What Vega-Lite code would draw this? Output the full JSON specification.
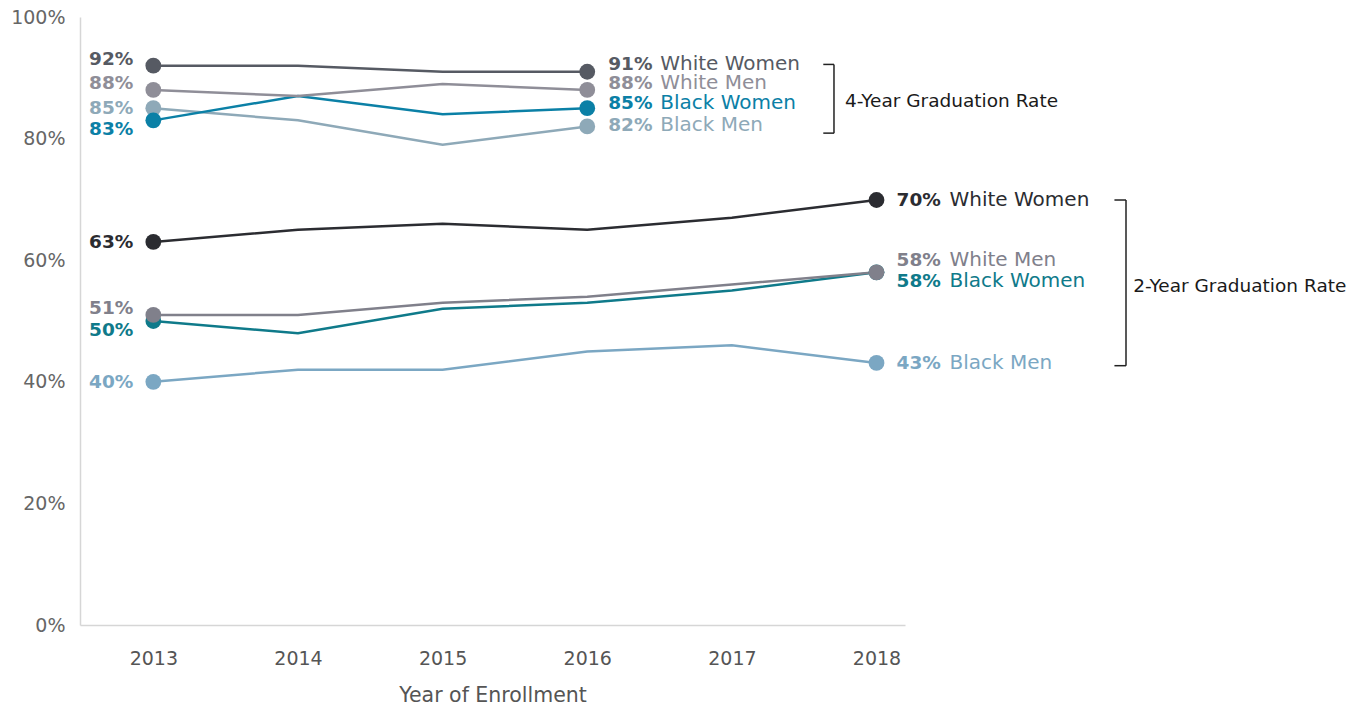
{
  "$schema": "https://vega.github.io/schema/vega-lite/v6.json",
  "autosize": {"type": "none"},
  "width": 825,
  "height": 608,
  "padding": {"left": 80, "top": 17, "right": 464, "bottom": 86},
  "background": "white",
  "config": {
    "view": {"stroke": null},
    "font": "DejaVu Sans",
    "text": {"font": "DejaVu Sans"}
  },
  "datasets": {
    "rates": [
      {"key": "4-Year Black Men", "group": "4-Year", "series": "Black Men", "year": 2013, "value": 0.85},
      {"key": "4-Year Black Men", "group": "4-Year", "series": "Black Men", "year": 2014, "value": 0.83},
      {"key": "4-Year Black Men", "group": "4-Year", "series": "Black Men", "year": 2015, "value": 0.79},
      {"key": "4-Year Black Men", "group": "4-Year", "series": "Black Men", "year": 2016, "value": 0.82},
      {"key": "4-Year Black Women", "group": "4-Year", "series": "Black Women", "year": 2013, "value": 0.83},
      {"key": "4-Year Black Women", "group": "4-Year", "series": "Black Women", "year": 2014, "value": 0.87},
      {"key": "4-Year Black Women", "group": "4-Year", "series": "Black Women", "year": 2015, "value": 0.84},
      {"key": "4-Year Black Women", "group": "4-Year", "series": "Black Women", "year": 2016, "value": 0.85},
      {"key": "4-Year White Men", "group": "4-Year", "series": "White Men", "year": 2013, "value": 0.88},
      {"key": "4-Year White Men", "group": "4-Year", "series": "White Men", "year": 2014, "value": 0.87},
      {"key": "4-Year White Men", "group": "4-Year", "series": "White Men", "year": 2015, "value": 0.89},
      {"key": "4-Year White Men", "group": "4-Year", "series": "White Men", "year": 2016, "value": 0.88},
      {"key": "4-Year White Women", "group": "4-Year", "series": "White Women", "year": 2013, "value": 0.92},
      {"key": "4-Year White Women", "group": "4-Year", "series": "White Women", "year": 2014, "value": 0.92},
      {"key": "4-Year White Women", "group": "4-Year", "series": "White Women", "year": 2015, "value": 0.91},
      {"key": "4-Year White Women", "group": "4-Year", "series": "White Women", "year": 2016, "value": 0.91},
      {"key": "2-Year Black Men", "group": "2-Year", "series": "Black Men", "year": 2013, "value": 0.40},
      {"key": "2-Year Black Men", "group": "2-Year", "series": "Black Men", "year": 2014, "value": 0.42},
      {"key": "2-Year Black Men", "group": "2-Year", "series": "Black Men", "year": 2015, "value": 0.42},
      {"key": "2-Year Black Men", "group": "2-Year", "series": "Black Men", "year": 2016, "value": 0.45},
      {"key": "2-Year Black Men", "group": "2-Year", "series": "Black Men", "year": 2017, "value": 0.46},
      {"key": "2-Year Black Men", "group": "2-Year", "series": "Black Men", "year": 2018, "value": 0.431},
      {"key": "2-Year Black Women", "group": "2-Year", "series": "Black Women", "year": 2013, "value": 0.50},
      {"key": "2-Year Black Women", "group": "2-Year", "series": "Black Women", "year": 2014, "value": 0.48},
      {"key": "2-Year Black Women", "group": "2-Year", "series": "Black Women", "year": 2015, "value": 0.52},
      {"key": "2-Year Black Women", "group": "2-Year", "series": "Black Women", "year": 2016, "value": 0.53},
      {"key": "2-Year Black Women", "group": "2-Year", "series": "Black Women", "year": 2017, "value": 0.55},
      {"key": "2-Year Black Women", "group": "2-Year", "series": "Black Women", "year": 2018, "value": 0.58},
      {"key": "2-Year White Men", "group": "2-Year", "series": "White Men", "year": 2013, "value": 0.51},
      {"key": "2-Year White Men", "group": "2-Year", "series": "White Men", "year": 2014, "value": 0.51},
      {"key": "2-Year White Men", "group": "2-Year", "series": "White Men", "year": 2015, "value": 0.53},
      {"key": "2-Year White Men", "group": "2-Year", "series": "White Men", "year": 2016, "value": 0.54},
      {"key": "2-Year White Men", "group": "2-Year", "series": "White Men", "year": 2017, "value": 0.56},
      {"key": "2-Year White Men", "group": "2-Year", "series": "White Men", "year": 2018, "value": 0.58},
      {"key": "2-Year White Women", "group": "2-Year", "series": "White Women", "year": 2013, "value": 0.63},
      {"key": "2-Year White Women", "group": "2-Year", "series": "White Women", "year": 2014, "value": 0.65},
      {"key": "2-Year White Women", "group": "2-Year", "series": "White Women", "year": 2015, "value": 0.66},
      {"key": "2-Year White Women", "group": "2-Year", "series": "White Women", "year": 2016, "value": 0.65},
      {"key": "2-Year White Women", "group": "2-Year", "series": "White Women", "year": 2017, "value": 0.67},
      {"key": "2-Year White Women", "group": "2-Year", "series": "White Women", "year": 2018, "value": 0.699}
    ],
    "brackets": [
      {"label": "4-Year Graduation Rate", "bx": 2017.706, "tick": 2017.632, "tx": 2017.782, "top": 0.922, "bottom": 0.809, "mid": 0.862},
      {"label": "2-Year Graduation Rate", "bx": 2019.725, "tick": 2019.645, "tx": 2019.775, "top": 0.699, "bottom": 0.4265, "mid": 0.558}
    ]
  },
  "encoding": {
    "x": {
      "field": "year", "type": "quantitative",
      "scale": {"domain": [2012.493, 2018.197], "nice": false, "zero": false},
      "axis": {
        "values": [2013, 2014, 2015, 2016, 2017, 2018], "format": "d",
        "title": "Year of Enrollment", "titleFont": "DejaVu Sans", "titleFontSize": 20.5, "titleFontWeight": "normal", "titleColor": "#555555", "titlePadding": 17,
        "labelFont": "DejaVu Sans", "labelFontSize": 19, "labelColor": "#555555", "labelPadding": 24,
        "ticks": false, "grid": false, "domainColor": "#d6d6d6", "domainWidth": 1.5
      }
    },
    "y": {
      "field": "value", "type": "quantitative",
      "scale": {"domain": [0, 1], "nice": false},
      "axis": {
        "values": [0, 0.2, 0.4, 0.6, 0.8, 1], "format": ".0%", "title": null,
        "labelFont": "DejaVu Sans", "labelFontSize": 19, "labelColor": "#666666", "labelPadding": 15,
        "ticks": false, "grid": false, "domainColor": "#d6d6d6", "domainWidth": 1.5
      }
    },
    "color": {
      "field": "key", "type": "nominal", "legend": null,
      "scale": {
        "domain": ["4-Year White Women", "4-Year White Men", "4-Year Black Women", "4-Year Black Men", "2-Year White Women", "2-Year White Men", "2-Year Black Women", "2-Year Black Men"],
        "range": ["#565a63", "#8f8e98", "#0b80a6", "#8ea9b8", "#2b2c31", "#80808b", "#0f7a8a", "#7ba7c3"]
      }
    }
  },
  "layer": [
    {
      "data": {"name": "rates"},
      "mark": {"type": "line", "strokeWidth": 2.5},
      "encoding": {"detail": {"field": "key"}}
    },
    {
      "data": {"name": "rates"},
      "transform": [{"filter": "datum.year == 2013 || datum.year == 2018 || (datum.group == '4-Year' && datum.year == 2016)"}],
      "mark": {"type": "circle", "size": 250, "opacity": 1}
    },
    {
      "data": {"name": "rates"},
      "transform": [{"filter": "datum.year == 2013 && indexof(['4-Year White Women','4-Year White Men','2-Year White Men'], datum.key) >= 0"}],
      "mark": {"type": "text", "align": "right", "baseline": "middle", "dx": -20, "dy": -7, "fontSize": 18.5, "fontWeight": "bold"},
      "encoding": {"text": {"field": "value", "type": "quantitative", "format": ".0%"}}
    },
    {
      "data": {"name": "rates"},
      "transform": [{"filter": "datum.year == 2013 && indexof(['4-Year Black Men','2-Year White Women','2-Year Black Men'], datum.key) >= 0"}],
      "mark": {"type": "text", "align": "right", "baseline": "middle", "dx": -20, "dy": 0, "fontSize": 18.5, "fontWeight": "bold"},
      "encoding": {"text": {"field": "value", "type": "quantitative", "format": ".0%"}}
    },
    {
      "data": {"name": "rates"},
      "transform": [{"filter": "datum.year == 2013 && indexof(['4-Year Black Women','2-Year Black Women'], datum.key) >= 0"}],
      "mark": {"type": "text", "align": "right", "baseline": "middle", "dx": -20, "dy": 8.5, "fontSize": 18.5, "fontWeight": "bold"},
      "encoding": {"text": {"field": "value", "type": "quantitative", "format": ".0%"}}
    },
    {
      "data": {"name": "rates"},
      "transform": [{"filter": "datum.year == 2016 && datum.key == '4-Year White Women'"}],
      "mark": {"type": "text", "align": "left", "baseline": "middle", "dx": 21, "dy": -8, "fontSize": 18.5, "fontWeight": "bold"},
      "encoding": {"text": {"field": "value", "type": "quantitative", "format": ".0%"}}
    },
    {
      "data": {"name": "rates"},
      "transform": [{"filter": "datum.year == 2016 && datum.key == '4-Year White Women'"}],
      "mark": {"type": "text", "align": "left", "baseline": "middle", "dx": 73, "dy": -8, "fontSize": 20},
      "encoding": {"text": {"field": "series"}}
    },
    {
      "data": {"name": "rates"},
      "transform": [{"filter": "datum.year == 2016 && datum.key == '4-Year White Men'"}],
      "mark": {"type": "text", "align": "left", "baseline": "middle", "dx": 21, "dy": -6.5, "fontSize": 18.5, "fontWeight": "bold"},
      "encoding": {"text": {"field": "value", "type": "quantitative", "format": ".0%"}}
    },
    {
      "data": {"name": "rates"},
      "transform": [{"filter": "datum.year == 2016 && datum.key == '4-Year White Men'"}],
      "mark": {"type": "text", "align": "left", "baseline": "middle", "dx": 73, "dy": -6.5, "fontSize": 20},
      "encoding": {"text": {"field": "series"}}
    },
    {
      "data": {"name": "rates"},
      "transform": [{"filter": "datum.year == 2016 && datum.key == '4-Year Black Women'"}],
      "mark": {"type": "text", "align": "left", "baseline": "middle", "dx": 21, "dy": -5.5, "fontSize": 18.5, "fontWeight": "bold"},
      "encoding": {"text": {"field": "value", "type": "quantitative", "format": ".0%"}}
    },
    {
      "data": {"name": "rates"},
      "transform": [{"filter": "datum.year == 2016 && datum.key == '4-Year Black Women'"}],
      "mark": {"type": "text", "align": "left", "baseline": "middle", "dx": 73, "dy": -5.5, "fontSize": 20},
      "encoding": {"text": {"field": "series"}}
    },
    {
      "data": {"name": "rates"},
      "transform": [{"filter": "datum.year == 2016 && datum.key == '4-Year Black Men'"}],
      "mark": {"type": "text", "align": "left", "baseline": "middle", "dx": 21, "dy": -1.5, "fontSize": 18.5, "fontWeight": "bold"},
      "encoding": {"text": {"field": "value", "type": "quantitative", "format": ".0%"}}
    },
    {
      "data": {"name": "rates"},
      "transform": [{"filter": "datum.year == 2016 && datum.key == '4-Year Black Men'"}],
      "mark": {"type": "text", "align": "left", "baseline": "middle", "dx": 73, "dy": -1.5, "fontSize": 20},
      "encoding": {"text": {"field": "series"}}
    },
    {
      "data": {"name": "rates"},
      "transform": [{"filter": "datum.year == 2018 && (datum.key == '2-Year White Women' || datum.key == '2-Year Black Men')"}],
      "mark": {"type": "text", "align": "left", "baseline": "middle", "dx": 20, "dy": 0, "fontSize": 18.5, "fontWeight": "bold"},
      "encoding": {"text": {"field": "value", "type": "quantitative", "format": ".0%"}}
    },
    {
      "data": {"name": "rates"},
      "transform": [{"filter": "datum.year == 2018 && (datum.key == '2-Year White Women' || datum.key == '2-Year Black Men')"}],
      "mark": {"type": "text", "align": "left", "baseline": "middle", "dx": 73, "dy": 0, "fontSize": 20},
      "encoding": {"text": {"field": "series"}}
    },
    {
      "data": {"name": "rates"},
      "transform": [{"filter": "datum.year == 2018 && datum.key == '2-Year White Men'"}],
      "mark": {"type": "text", "align": "left", "baseline": "middle", "dx": 20, "dy": -12, "fontSize": 18.5, "fontWeight": "bold"},
      "encoding": {"text": {"field": "value", "type": "quantitative", "format": ".0%"}}
    },
    {
      "data": {"name": "rates"},
      "transform": [{"filter": "datum.year == 2018 && datum.key == '2-Year White Men'"}],
      "mark": {"type": "text", "align": "left", "baseline": "middle", "dx": 73, "dy": -12, "fontSize": 20},
      "encoding": {"text": {"field": "series"}}
    },
    {
      "data": {"name": "rates"},
      "transform": [{"filter": "datum.year == 2018 && datum.key == '2-Year Black Women'"}],
      "mark": {"type": "text", "align": "left", "baseline": "middle", "dx": 20, "dy": 9, "fontSize": 18.5, "fontWeight": "bold"},
      "encoding": {"text": {"field": "value", "type": "quantitative", "format": ".0%"}}
    },
    {
      "data": {"name": "rates"},
      "transform": [{"filter": "datum.year == 2018 && datum.key == '2-Year Black Women'"}],
      "mark": {"type": "text", "align": "left", "baseline": "middle", "dx": 73, "dy": 9, "fontSize": 20},
      "encoding": {"text": {"field": "series"}}
    },
    {
      "data": {"name": "brackets"},
      "mark": {"type": "rule", "strokeWidth": 1.5},
      "encoding": {"x": {"field": "bx", "type": "quantitative"}, "y": {"field": "top", "type": "quantitative"}, "y2": {"field": "bottom"}, "color": {"value": "#222222"}}
    },
    {
      "data": {"name": "brackets"},
      "mark": {"type": "rule", "strokeWidth": 1.5},
      "encoding": {"x": {"field": "tick", "type": "quantitative"}, "x2": {"field": "bx"}, "y": {"field": "top", "type": "quantitative"}, "color": {"value": "#222222"}}
    },
    {
      "data": {"name": "brackets"},
      "mark": {"type": "rule", "strokeWidth": 1.5},
      "encoding": {"x": {"field": "tick", "type": "quantitative"}, "x2": {"field": "bx"}, "y": {"field": "bottom", "type": "quantitative"}, "color": {"value": "#222222"}}
    },
    {
      "data": {"name": "brackets"},
      "mark": {"type": "text", "align": "left", "baseline": "middle", "fontSize": 18.5},
      "encoding": {"x": {"field": "tx", "type": "quantitative"}, "y": {"field": "mid", "type": "quantitative"}, "text": {"field": "label"}, "color": {"value": "#1a1a1a"}}
    }
  ]
}
